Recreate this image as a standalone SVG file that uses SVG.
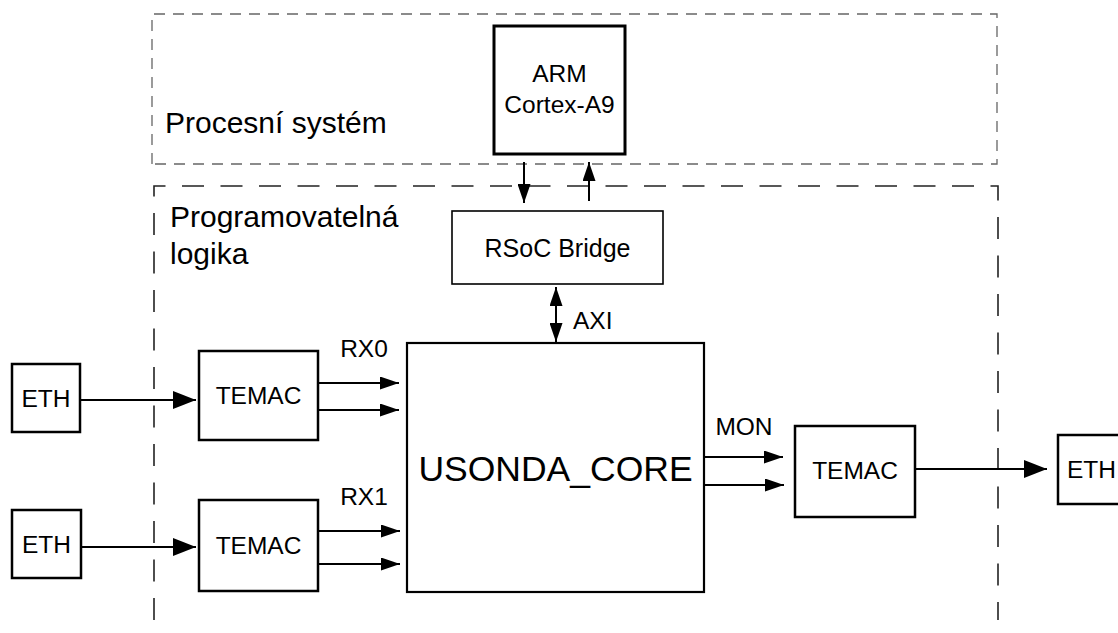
<svg xmlns="http://www.w3.org/2000/svg" width="1118" height="633" viewBox="0 0 1118 633">
<defs>
<style>
text{font-family:"Liberation Sans",Arial,sans-serif;fill:#000}
.b{fill:#fff;stroke:#000;stroke-width:2.5}
.t{font-size:24.5px;text-anchor:middle}
.lbl{font-size:30px}
.c{fill:none;stroke:#000;stroke-width:2}
.ps{fill:none;stroke:#666;stroke-width:1.3;stroke-dasharray:11 8}
.pl{fill:none;stroke:#222;stroke-width:1.6;stroke-dasharray:22 16.5}
</style>
<marker id="ah" viewBox="0 0 19 13" refX="19" refY="6.5" markerWidth="19" markerHeight="13" orient="auto-start-reverse" markerUnits="userSpaceOnUse"><path d="M0,0 L19,6.5 L0,13 z" fill="#000"/></marker>
<marker id="ahL" viewBox="0 0 23 18" refX="23" refY="9" markerWidth="23" markerHeight="18" orient="auto" markerUnits="userSpaceOnUse"><path d="M0,0 L23,9 L0,18 z" fill="#000"/></marker>
</defs>
<g id="regions">
<path class="ps" d="M152,164 V14 H997 V164 Z"/>
<path class="pl" d="M154,620 V186 H998 V620"/>
<text class="lbl" x="165" y="133">Procesní systém</text>
<text class="lbl" x="170" y="227">Programovatelná</text>
<text class="lbl" x="170" y="264">logika</text>
</g>
<g id="connectors">
<path class="c" d="M524,162 V203" marker-end="url(#ah)"/>
<path class="c" d="M589,201 V162" marker-end="url(#ah)"/>
<path class="c" d="M556,287 V342" marker-start="url(#ah)" marker-end="url(#ah)"/>
<path class="c" d="M80,400 H196" marker-end="url(#ahL)"/>
<path class="c" d="M81,547 H196" marker-end="url(#ahL)"/>
<path class="c" d="M318,383 H399" marker-end="url(#ah)"/>
<path class="c" d="M318,410 H399" marker-end="url(#ah)"/>
<path class="c" d="M318,531 H400" marker-end="url(#ah)"/>
<path class="c" d="M318,564 H400" marker-end="url(#ah)"/>
<path class="c" d="M704,457 H783" marker-end="url(#ah)"/>
<path class="c" d="M704,485 H784" marker-end="url(#ah)"/>
<path class="c" d="M916,469 H1047" marker-end="url(#ahL)"/>
<text class="t" x="364" y="357">RX0</text>
<text class="t" x="364" y="505">RX1</text>
<text class="t" x="744" y="435">MON</text>
<text style="font-size:24.5px" x="573" y="329">AXI</text>
</g>
<g id="arm">
<rect class="b" x="494" y="26" width="131" height="128" style="stroke-width:3"/>
<text class="t" x="559.5" y="82">ARM</text>
<text class="t" x="559.5" y="113">Cortex-A9</text>
</g>
<g id="bridge">
<rect class="b" x="452" y="211" width="211" height="73" style="stroke-width:1.6"/>
<text class="t" x="557.5" y="257" style="font-size:25px">RSoC Bridge</text>
</g>
<g id="core">
<rect class="b" x="407" y="343" width="297" height="249" style="stroke-width:2.2"/>
<text style="font-size:35.5px;text-anchor:middle" x="555.5" y="481">USONDA_CORE</text>
</g>
<g id="eth1">
<rect class="b" x="12" y="364" width="68" height="68"/>
<text class="t" x="46" y="407">ETH</text>
</g>
<g id="eth2">
<rect class="b" x="12" y="510" width="69" height="68"/>
<text class="t" x="46.5" y="553">ETH</text>
</g>
<g id="temac1">
<rect class="b" x="199" y="351" width="119" height="89"/>
<text class="t" x="258.5" y="404">TEMAC</text>
</g>
<g id="temac2">
<rect class="b" x="199" y="500" width="119" height="91"/>
<text class="t" x="258.5" y="554">TEMAC</text>
</g>
<g id="temac3">
<rect class="b" x="795" y="426" width="120" height="91"/>
<text class="t" x="855" y="479">TEMAC</text>
</g>
<g id="eth3">
<rect class="b" x="1058" y="435" width="80" height="69"/>
<text style="font-size:24.5px" x="1067" y="478">ETH</text>
</g>
</svg>
